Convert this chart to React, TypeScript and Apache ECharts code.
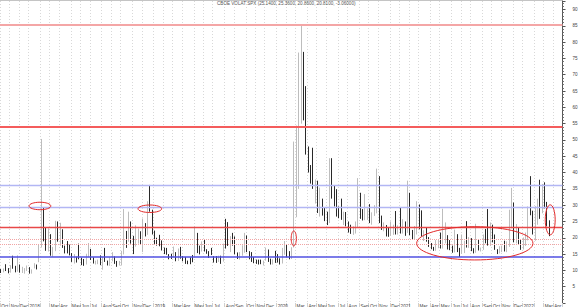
import React, { useEffect, useRef } from "react";
import * as echarts from "echarts";

// Weekly candles, first week starting Monday 2017-10-09
const START_WEEK = "2017-10-09";
const PAD_WEEKS = 5;
const TITLE = "CBOE VOLAT SPX (25.1400, 25.3600, 20.8600, 20.8100, -3.06000)";

// [open, high, low, close]
const vix2017 = [
  [9.9, 10.4, 9.2, 9.6], [9.9, 10.6, 9.4, 9.97], [10.2, 11.9, 9.8, 9.8], [10.5, 10.7, 9.1, 9.14],
  [9.4, 11.6, 9.3, 11.29], [11.5, 14.5, 10.5, 11.43], [11.3, 11.4, 9.4, 9.67], [9.9, 14.6, 9.6, 11.02],
  [11.3, 11.8, 9.3, 9.58], [9.4, 11.1, 9.2, 10.49], [9.5, 10.7, 9.0, 9.9], [10.5, 11.5, 9.8, 11.04],
];
const vix2018 = [
  [10.95, 11.0, 9.0, 9.22], [9.5, 10.3, 9.0, 10.16], [10.9, 12.2, 10.6, 11.27], [11.6, 11.8, 10.3, 11.08], [12.8, 17.8, 12.5, 17.31],
  [17.3, 50.3, 17.0, 29.06], [26.5, 29.3, 18.9, 19.46], [20.9, 23.0, 16.0, 16.49], [16.5, 22.9, 15.8, 19.59],
  [21.0, 21.1, 14.5, 14.64], [14.5, 17.2, 14.1, 15.8], [16.0, 25.2, 15.9, 24.87], [24.8, 25.0, 18.8, 19.97],
  [20.0, 24.6, 17.6, 21.49], [21.6, 22.6, 16.9, 17.41], [17.4, 17.6, 15.2, 16.88], [17.4, 19.0, 15.2, 15.41], [15.2, 17.9, 14.6, 14.77],
  [14.6, 15.3, 12.6, 12.65], [12.5, 15.0, 12.1, 13.42], [13.5, 14.2, 12.4, 13.22], [15.6, 18.2, 13.4, 13.46],
  [13.8, 13.9, 11.6, 12.18], [12.4, 13.5, 11.4, 11.98], [12.0, 15.1, 11.8, 13.77], [15.0, 18.4, 14.0, 16.09],
  [16.3, 16.6, 13.2, 13.37], [13.0, 14.0, 12.1, 12.18], [12.2, 13.0, 11.8, 12.86], [13.0, 13.3, 11.9, 13.03], [14.3, 14.6, 11.6, 11.64],
  [11.8, 14.2, 10.2, 13.16], [13.2, 16.9, 12.6, 12.64], [12.7, 13.0, 11.5, 11.99], [12.0, 14.0, 11.4, 12.86],
  [13.0, 15.6, 12.8, 14.88], [14.2, 14.3, 12.0, 12.07], [12.5, 12.9, 11.1, 11.68], [12.0, 12.9, 11.5, 12.12],
  [12.0, 16.0, 11.5, 14.82], [15.7, 28.8, 14.9, 21.31], [21.2, 22.1, 16.9, 19.89], [19.6, 28.0, 18.8, 24.16], [24.0, 25.0, 18.2, 19.51],
  [19.5, 20.6, 15.0, 17.36], [17.6, 23.8, 17.3, 18.14], [18.9, 22.8, 18.2, 21.52], [21.5, 22.0, 17.8, 18.07],
  [16.0, 25.9, 15.6, 23.23], [23.3, 24.5, 20.4, 21.63], [21.5, 31.2, 20.9, 30.11], [30.1, 36.2, 28.0, 28.34], [28.3, 28.6, 21.0, 21.38],
];
const vix2019 = [
  [21.4, 22.2, 18.1, 18.19], [18.6, 20.0, 17.6, 17.8], [17.8, 20.9, 17.4, 17.42], [18.5, 19.2, 16.1, 16.14],
  [16.3, 17.0, 15.0, 15.72], [16.2, 16.9, 14.8, 14.91], [14.8, 15.0, 13.4, 13.51], [14.5, 15.1, 13.5, 13.57],
  [14.0, 17.3, 14.0, 16.05], [15.5, 15.6, 12.8, 12.88], [13.0, 16.7, 12.9, 16.48], [16.9, 17.2, 13.6, 13.71],
  [13.8, 14.4, 12.8, 12.82], [13.2, 14.1, 12.0, 12.01], [12.4, 13.0, 11.9, 12.09], [12.9, 14.0, 11.9, 12.73], [13.0, 14.7, 12.5, 12.87],
  [15.9, 23.4, 14.0, 16.04], [18.6, 21.5, 15.3, 15.96], [16.3, 17.6, 14.9, 15.85], [16.5, 18.9, 15.8, 18.71],
  [19.0, 19.5, 15.8, 16.3], [15.3, 16.5, 15.1, 15.28], [15.7, 15.9, 13.8, 15.4], [15.6, 16.9, 14.7, 15.08],
  [14.3, 14.4, 12.4, 13.28], [13.9, 14.4, 12.3, 12.39], [12.6, 14.5, 12.6, 14.45], [14.3, 14.5, 12.0, 12.16], [12.9, 18.2, 12.7, 17.61],
  [19.0, 25.8, 16.7, 17.97], [19.0, 24.8, 17.5, 18.47], [17.0, 20.5, 15.6, 19.87], [20.5, 21.5, 17.6, 18.98],
  [19.5, 20.4, 14.9, 15.0], [15.3, 15.5, 13.5, 13.74], [14.4, 15.6, 13.3, 15.32], [15.5, 17.7, 14.5, 17.22], [16.5, 21.5, 15.4, 17.04],
  [17.8, 20.7, 15.6, 15.58], [15.8, 15.9, 13.4, 14.25], [14.8, 15.6, 12.6, 12.65], [12.6, 14.1, 12.2, 12.3],
  [12.8, 13.3, 12.0, 12.07], [12.9, 13.3, 11.8, 12.05], [12.7, 13.3, 11.9, 12.34], [12.5, 13.0, 11.5, 12.62],
  [13.1, 17.0, 13.0, 13.62], [14.7, 16.4, 12.6, 12.63], [13.3, 13.6, 11.8, 12.51], [12.9, 13.4, 11.8, 13.43], [14.5, 16.0, 12.3, 14.02],
];
const vix2020 = [
  [14.0, 15.0, 12.4, 12.56], [12.6, 13.7, 11.8, 12.1], [12.5, 16.9, 12.1, 14.56], [17.0, 19.0, 14.8, 18.84],
  [18.0, 18.0, 14.0, 15.47], [15.5, 15.9, 13.4, 13.68], [14.4, 17.1, 13.5, 17.08], [17.1, 49.5, 17.0, 40.11],
  [40.0, 54.4, 26.3, 41.94], [41.9, 76.8, 35.0, 57.83], [57.8, 85.5, 55.0, 76.0], [74.0, 77.0, 56.0, 66.0], [66.0, 66.5, 45.5, 46.8],
  [46.8, 48.0, 40.0, 41.67], [41.7, 42.3, 36.6, 38.15], [38.2, 47.6, 35.0, 35.93], [35.9, 37.9, 30.5, 37.19],
  [37.2, 37.5, 27.6, 27.98], [28.0, 35.4, 26.5, 31.89], [31.9, 32.0, 26.8, 28.16], [28.2, 29.2, 25.1, 27.51],
  [27.5, 28.0, 23.9, 24.52], [24.5, 44.4, 24.5, 36.09], [42.0, 44.4, 32.0, 35.12], [35.1, 36.0, 29.6, 34.73], [34.7, 34.9, 26.5, 27.68],
  [27.7, 29.6, 26.0, 27.29], [27.3, 32.0, 25.5, 25.68], [25.7, 28.0, 23.9, 25.84], [25.8, 27.9, 23.5, 24.46],
  [24.5, 25.0, 21.6, 22.21], [22.2, 24.0, 21.2, 22.05], [22.1, 23.5, 20.9, 22.54], [22.5, 25.0, 21.3, 22.96], [23.0, 38.3, 23.0, 30.75],
  [30.8, 33.8, 25.8, 26.87], [26.9, 28.8, 25.3, 25.83], [25.8, 33.4, 25.4, 26.38], [26.4, 29.0, 25.5, 27.63],
  [27.6, 30.3, 24.5, 25.0], [25.0, 27.8, 24.0, 27.41], [27.4, 30.0, 26.7, 27.55], [27.6, 41.2, 27.5, 38.02],
  [38.0, 38.9, 24.5, 24.86], [24.9, 26.8, 22.4, 23.1], [23.1, 24.7, 22.0, 23.7], [23.7, 23.9, 20.4, 20.84], [20.8, 23.2, 20.3, 20.79],
  [20.8, 25.0, 20.6, 21.16], [21.2, 24.0, 20.9, 21.57], [21.6, 28.2, 21.0, 21.53], [21.5, 23.8, 21.0, 22.75],
];
const vix2021 = [
  [22.8, 29.2, 21.3, 21.56], [21.6, 25.7, 21.3, 24.34], [24.3, 25.0, 20.6, 21.91], [21.9, 37.5, 21.5, 33.09],
  [33.1, 33.8, 20.8, 20.87], [20.9, 22.4, 19.5, 19.97], [20.0, 23.6, 19.5, 22.05], [22.0, 31.2, 21.0, 27.95],
  [28.0, 30.2, 22.6, 24.66], [24.7, 28.4, 20.4, 20.69], [20.7, 22.3, 19.0, 20.95], [21.0, 23.1, 18.8, 18.86], [18.9, 20.2, 17.2, 17.33],
  [17.3, 18.4, 16.5, 16.69], [16.7, 17.2, 16.0, 16.25], [16.3, 19.3, 16.0, 17.33], [17.3, 19.4, 16.8, 18.61],
  [18.6, 21.6, 16.7, 16.69], [16.7, 28.9, 16.7, 18.81], [18.8, 24.7, 18.3, 20.15], [20.2, 20.8, 16.4, 16.76], [16.8, 19.3, 16.2, 16.42],
  [16.4, 17.6, 15.4, 15.65], [15.7, 22.5, 15.5, 20.7], [20.7, 21.1, 15.6, 15.62], [15.6, 16.9, 14.1, 15.07],
  [15.1, 21.0, 15.1, 16.18], [16.2, 19.1, 15.3, 17.75], [17.8, 25.1, 17.0, 17.2], [17.2, 20.2, 16.9, 18.24],
  [18.2, 19.9, 15.9, 16.15], [16.2, 16.8, 15.2, 15.45], [15.5, 24.3, 15.4, 18.56], [18.6, 19.4, 16.1, 16.39], [16.4, 17.0, 15.8, 16.41],
  [16.4, 21.0, 16.3, 20.95], [21.0, 22.7, 18.3, 20.81], [20.8, 28.8, 17.6, 17.75], [17.8, 24.7, 17.5, 21.15],
  [21.2, 24.0, 18.6, 18.77], [18.8, 21.0, 16.3, 16.3], [16.3, 16.5, 15.0, 15.43], [15.4, 17.4, 15.2, 16.26],
  [16.3, 17.6, 15.6, 16.48], [16.5, 19.1, 15.8, 16.29], [16.3, 18.9, 15.6, 17.91], [17.9, 28.6, 17.2, 28.62], [28.6, 35.3, 22.9, 30.67],
  [30.7, 30.8, 18.6, 18.69], [18.7, 24.2, 18.3, 21.57], [21.6, 23.1, 17.8, 17.96], [18.0, 19.4, 16.3, 17.22],
];
const vix2022 = [
  [17.2, 20.1, 16.4, 18.76], [18.8, 21.6, 17.5, 19.19], [19.2, 29.6, 19.2, 28.85], [28.9, 38.9, 26.9, 27.66],
  [27.7, 28.3, 21.0, 23.22], [23.2, 29.7, 19.1, 27.36], [27.4, 32.0, 24.0, 27.75], [27.8, 37.8, 25.8, 27.59],
  [27.6, 36.5, 27.5, 31.98], [32.0, 37.0, 29.0, 30.75], [30.8, 31.0, 23.5, 23.87], [25.14, 25.36, 20.5, 20.81],
];

// Horizontal level lines drawn on the chart
const levelValues = [85.3, 54.1, 36.0, 29.3, 23.2, 19.6, 18.0, 14.1];
const levelStyles = [
  { color: "#f4a6a6", width: 2, type: "solid" },
  { color: "#f45c5c", width: 1.8, type: "solid" },
  { color: "#b2b6f4", width: 1.4, type: "solid" },
  { color: "#b2b6f4", width: 1.4, type: "solid" },
  { color: "#e84848", width: 1.4, type: "solid" },
  { color: "#f2a4a4", width: 1, type: [1, 1] },
  { color: "#f2a4a4", width: 1, type: [1, 1] },
  { color: "#5050e2", width: 1.5, type: "solid" },
];

// Red ellipse annotations: [week index, value, half-width (weeks), half-height (value)]
const ellipseNotes = [
  [16.4, 29.75, 4.6, 1.15],
  [62.9, 28.9, 5.0, 1.15],
  [123.8, 19.8, 1.1, 2.3],
  [200.4, 18.3, 24.6, 5.1],
  [232.3, 25.5, 2.1, 4.6],
];

const MONTHS = ["Jan", "Feb", "Mar", "Apr", "May", "Jun", "Jul", "Aug", "Sep", "Oct", "Nov", "Dec"];

const ohlc = [...vix2017, ...vix2018, ...vix2019, ...vix2020, ...vix2021, ...vix2022];

function buildWeeks(count: number): string[] {
  const [y, m, d] = START_WEEK.split("-").map(Number);
  const t0 = Date.UTC(y, m - 1, d);
  const out: string[] = [];
  for (let i = 0; i < count; i++) {
    const dt = new Date(t0 + i * 7 * 86400000);
    out.push(dt.toISOString().slice(0, 10));
  }
  return out;
}

const weeks = buildWeeks(ohlc.length + PAD_WEEKS);

function isMonthStart(index: number): boolean {
  if (index === 0) return true;
  return weeks[index].slice(5, 7) !== weeks[index - 1].slice(5, 7);
}

const FONT = "Liberation Sans";

export default function App() {
  const ref = useRef<HTMLDivElement>(null);
  useEffect(() => {
    if (!ref.current) return;
    const chart = echarts.init(ref.current, null, { renderer: "svg" });
    const data = ohlc.map((r) => [r[0], r[3], r[2], r[1]]);
    const option: any = {
      animation: false,
      backgroundColor: "#ffffff",
      title: {
        text: TITLE,
        left: 217,
        top: 1,
        padding: 0,
        textStyle: { fontSize: 4.6, fontWeight: "normal", color: "#555", fontFamily: FONT },
      },
      grid: { left: 0, right: 17.5, top: 1, bottom: 4, outerBoundsMode: "none", containLabel: false },
      xAxis: {
        type: "category",
        data: weeks,
        boundaryGap: true,
        axisLine: { show: false },
        axisTick: {
          show: true,
          length: 4,
          interval: (i: number) => isMonthStart(i),
          lineStyle: { color: "#cfcfcf", width: 1 },
        },
        splitLine: {
          show: true,
          interval: (i: number) => isMonthStart(i),
          lineStyle: { color: "#d8d8d8", width: 1, type: [1, 2] },
        },
        axisLabel: {
          interval: (i: number) => isMonthStart(i) && weeks[i].slice(5, 7) !== "02",
          formatter: (v: string) => {
            const mo = Number(v.slice(5, 7));
            return mo === 1 ? v.slice(0, 4) : MONTHS[mo - 1];
          },
          align: "left",
          margin: 0.5,
          fontSize: 4.6,
          color: "#444",
          fontFamily: FONT,
        },
      },
      yAxis: {
        type: "value",
        position: "right",
        min: 0,
        max: 92.6,
        interval: 5,
        axisLine: { show: true, lineStyle: { color: "#555", width: 1 } },
        axisTick: { show: true, length: 3, lineStyle: { color: "#555" } },
        minorTick: { show: true, splitNumber: 5, length: 1.5, lineStyle: { color: "#777" } },
        splitLine: { show: false },
        axisLabel: {
          showMinLabel: false,
          showMaxLabel: false,
          margin: 10,
          fontSize: 4.6,
          color: "#444",
          fontFamily: FONT,
        },
      },
      series: [
        {
          type: "candlestick",
          data,
          barWidth: "52%",
          itemStyle: {
            color: "#cacaca",
            color0: "#111111",
            borderColor: "#b6b6b6",
            borderColor0: "#111111",
            borderWidth: 0.9,
          },
          markLine: {
            silent: true,
            symbol: ["none", "none"],
            label: { show: false },
            data: levelValues.map((v, i) => ({ yAxis: v, lineStyle: levelStyles[i] })),
          },
          z: 3,
        },
      ],
    };
    chart.setOption(option);

    const x0 = chart.convertToPixel({ xAxisIndex: 0 }, 0) as number;
    const x1 = chart.convertToPixel({ xAxisIndex: 0 }, 1) as number;
    const bw = x1 - x0;
    const yPix = (v: number) => chart.convertToPixel({ yAxisIndex: 0 }, v) as number;
    const ellipses = ellipseNotes.map((e) => ({
      type: "ellipse",
      silent: true,
      z: 10,
      shape: {
        cx: x0 + e[0] * bw,
        cy: yPix(e[1]),
        rx: e[2] * bw,
        ry: Math.abs(yPix(e[1] + e[3]) - yPix(e[1])),
      },
      style: { fill: "none", stroke: "#e22a2a", lineWidth: 1 },
    }));
    const right = (chart.convertToPixel({ xAxisIndex: 0 }, weeks.length - 1) as number) + bw / 2;
    chart.setOption({
      graphic: [
        ...ellipses,
        {
          type: "line",
          silent: true,
          shape: { x1: 0, y1: 0.5, x2: right, y2: 0.5 },
          style: { stroke: "#c4c4c4", lineWidth: 1 },
        },
      ],
    });
    return () => chart.dispose();
  }, []);
  return (
    <div
      ref={ref}
      style={{ position: "fixed", left: 0, top: 0, width: 580, height: 307, background: "#fff" }}
    />
  );
}
